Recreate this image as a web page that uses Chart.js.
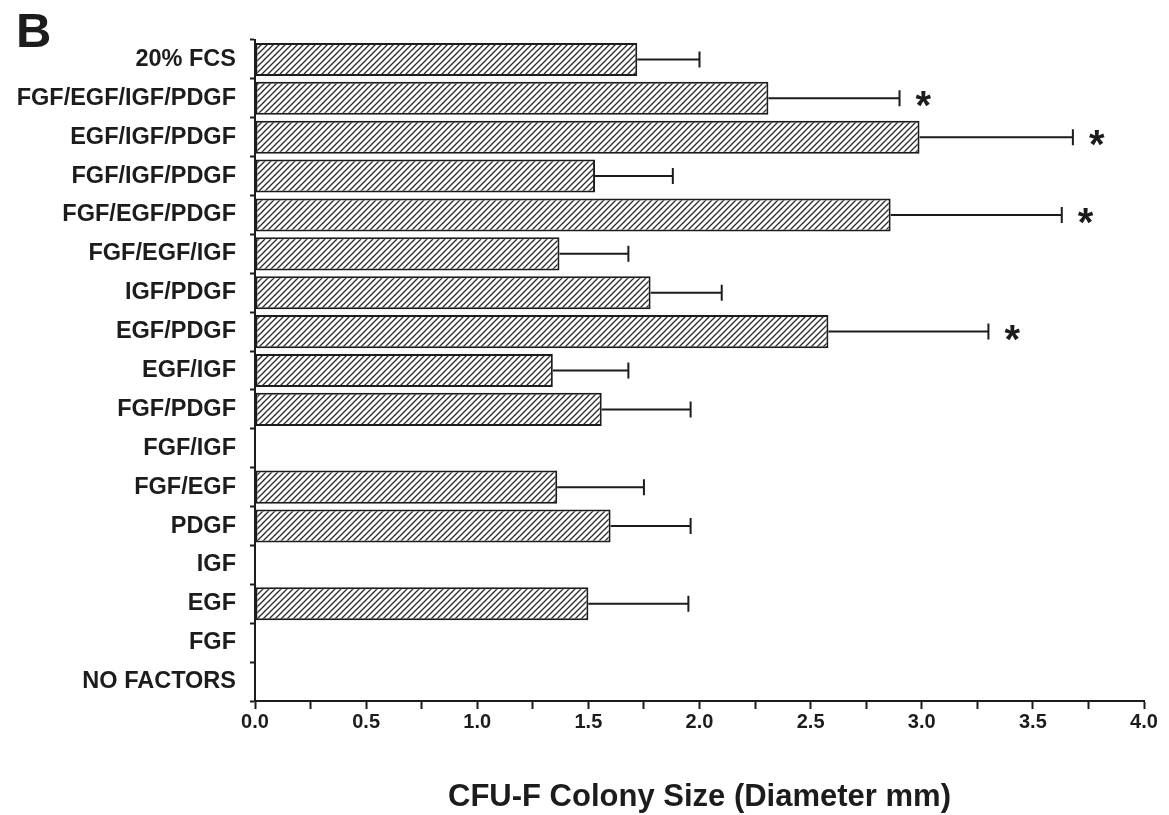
<!DOCTYPE html>
<html>
<head>
<meta charset="utf-8">
<script src="https://cdn.jsdelivr.net/npm/chart.js@4.4.1/dist/chart.umd.min.js"></script>
<style>
  html, body { margin: 0; padding: 0; background: #fff; }
  canvas { display: block; }
</style>
</head>
<body>
<canvas id="colonyChart" width="1169" height="815"></canvas>
<script>
  // growth factor combinations, top to bottom
  var categories = ['20% FCS', 'FGF/EGF/IGF/PDGF', 'EGF/IGF/PDGF', 'FGF/IGF/PDGF', 'FGF/EGF/PDGF',
    'FGF/EGF/IGF', 'IGF/PDGF', 'EGF/PDGF', 'EGF/IGF', 'FGF/PDGF', 'FGF/IGF', 'FGF/EGF',
    'PDGF', 'IGF', 'EGF', 'FGF', 'NO FACTORS'];
  // mean colony diameter (mm); null = no colonies formed
  var meanSize = [1.72, 2.31, 2.99, 1.53, 2.86, 1.37, 1.78, 2.58, 1.34, 1.56, null, 1.36,
    1.60, null, 1.50, null, null];
  // standard deviation, drawn on the positive side only
  var sdSize = [0.28, 0.59, 0.69, 0.35, 0.77, 0.31, 0.32, 0.72, 0.34, 0.40, null, 0.39,
    0.36, null, 0.45, null, null];
  // significant vs 20% FCS
  var significant = [false, true, true, false, true, false, false, true, false, false, false, false,
    false, false, false, false, false];
  var xTicks = [0, 0.5, 1, 1.5, 2, 2.5, 3, 3.5, 4];

  var ink = '#1c1c1c';
  var fontFamily = '"Liberation Sans", Arial, Helvetica, sans-serif';

  // diagonal hatch fill for the bars
  function hatchPattern() {
    var s = 6;
    var c = document.createElement('canvas');
    c.width = s; c.height = s;
    var g = c.getContext('2d');
    g.fillStyle = '#fff';
    g.fillRect(0, 0, s, s);
    g.strokeStyle = '#2a2a2a';
    g.lineWidth = 1.3;
    g.beginPath();
    g.moveTo(0, s); g.lineTo(s, 0);
    g.moveTo(-1, 1); g.lineTo(1, -1);
    g.moveTo(s - 1, s + 1); g.lineTo(s + 1, s - 1);
    g.stroke();
    return g.createPattern(c, 'repeat');
  }

  var errorBars = {
    id: 'errorBars',
    afterDatasetsDraw: function (chart) {
      var ctx = chart.ctx;
      var xs = chart.scales.x;
      var meta = chart.getDatasetMeta(0);
      ctx.save();
      ctx.strokeStyle = ink;
      ctx.fillStyle = ink;
      ctx.lineWidth = 2;
      meta.data.forEach(function (bar, i) {
        if (meanSize[i] == null || sdSize[i] == null) return;
        var x0 = bar.x;
        var x1 = xs.getPixelForValue(meanSize[i] + sdSize[i]);
        var y = bar.y;
        ctx.beginPath();
        ctx.moveTo(x0, y); ctx.lineTo(x1, y);
        ctx.moveTo(x1, y - 8); ctx.lineTo(x1, y + 8);
        ctx.stroke();
        if (significant[i]) {
          ctx.font = 'bold 40px ' + fontFamily;
          var m = ctx.measureText('*');
          ctx.textAlign = 'left';
          ctx.textBaseline = 'alphabetic';
          ctx.fillText('*', x1 + 16, y + (m.actualBoundingBoxAscent - m.actualBoundingBoxDescent) / 2 + 1);
        }
      });
      ctx.restore();
    }
  };

  var panelLetter = {
    id: 'panelLetter',
    afterDraw: function (chart) {
      var ctx = chart.ctx;
      ctx.save();
      ctx.fillStyle = ink;
      ctx.font = 'bold 49px ' + fontFamily;
      ctx.textBaseline = 'alphabetic';
      ctx.fillText('B', 16, 47);
      ctx.restore();
    }
  };

  var ctx = document.getElementById('colonyChart').getContext('2d');
  var colonyChart = new Chart(ctx, {
    type: 'bar',
    data: {
      labels: categories,
      datasets: [{
        label: 'CFU-F colony size',
        data: meanSize,
        backgroundColor: hatchPattern(),
        borderColor: ink,
        borderWidth: 2,
        borderSkipped: false,
        barPercentage: 0.85,
        categoryPercentage: 1.0
      }]
    },
    options: {
      indexAxis: 'y',
      responsive: false,
      animation: false,
      layout: { padding: { top: 40, right: 25, left: 0, bottom: 0 } },
      plugins: {
        legend: { display: false },
        tooltip: { enabled: false }
      },
      scales: {
        x: {
          min: 0,
          max: 4,
          afterFit: function (scale) { scale.height = 114; },
          afterBuildTicks: function (scale) {
            // minor ticks every 0.25, labels on the half units
            var t = [];
            for (var i = 0; i < xTicks.length; i++) {
              t.push({ value: xTicks[i] });
              if (i < xTicks.length - 1) t.push({ value: xTicks[i] + 0.25 });
            }
            scale.ticks = t;
          },
          border: { display: true, color: ink, width: 2 },
          grid: { drawOnChartArea: false, drawTicks: true, tickLength: 8, tickWidth: 2, tickColor: ink },
          ticks: {
            color: ink,
            padding: 1,
            maxRotation: 0,
            autoSkip: false,
            font: { family: fontFamily, size: 20, weight: 'bold' },
            callback: function (v) { return xTicks.indexOf(v) >= 0 ? v.toFixed(1) : ''; }
          },
          title: {
            display: true,
            text: 'CFU-F Colony Size (Diameter mm)',
            color: ink,
            font: { family: fontFamily, size: 31, weight: 'bold', lineHeight: 1 },
            padding: { top: 0, bottom: 2 }
          }
        },
        y: {
          afterFit: function (scale) { scale.width = 255; },
          border: { display: true, color: ink, width: 2 },
          grid: { drawOnChartArea: false, drawTicks: true, tickLength: 5, tickWidth: 2, tickColor: ink, offset: true },
          ticks: {
            color: ink,
            padding: 14,
            autoSkip: false,
            font: { family: fontFamily, size: 23.5, weight: 'bold' }
          }
        }
      }
    },
    plugins: [errorBars, panelLetter]
  });
</script>
</body>
</html>
